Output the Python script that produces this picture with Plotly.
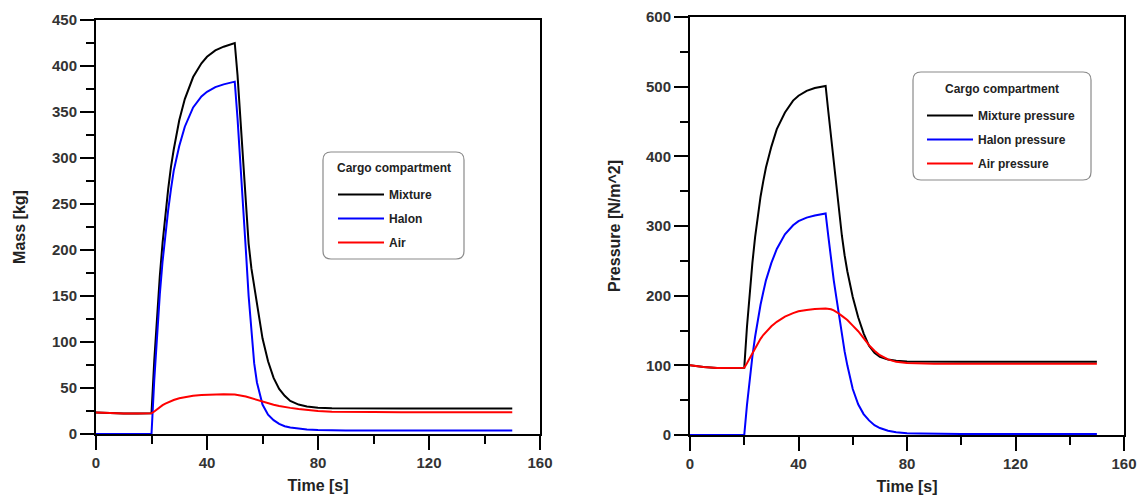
import plotly.graph_objects as go

# ---------------- data ----------------
time_s = [0, 5, 10, 15, 20, 21, 22, 23, 24, 25, 26, 27, 28, 30, 32, 35, 38, 40, 43, 46,
          50, 51, 52, 53, 54, 55, 56, 57, 58, 60, 62, 64, 66, 68, 70, 73, 76, 80, 85, 90,
          100, 110, 120, 130, 140, 150]

mixture_mass = [23.5, 22.8, 22.4, 22.3, 22.5, 80, 132, 172, 208, 240, 266, 290, 309, 341, 364, 388, 403, 410, 417, 421,
                425, 390, 345, 298, 250, 207, 180, 160, 141, 104, 79, 61, 49, 41.5, 36, 32, 30, 28.6, 28, 27.8,
                27.7, 27.7, 27.7, 27.7, 27.7, 27.7]
halon_mass = [0, 0, 0, 0, 0, 59, 110, 152, 188, 218, 243, 266, 286, 313, 334, 355, 367, 372, 377, 380,
              383, 343, 298, 250, 200, 150, 108, 77, 56, 32, 21, 15, 11, 8.5, 7, 5.8, 5, 4.4, 4, 3.8,
              3.7, 3.7, 3.7, 3.7, 3.7, 3.7]
air_mass = [23.5, 22.8, 22.4, 22.3, 22.5, 24.5, 27, 29.3, 31.3, 33, 34.5, 35.8, 36.9, 38.8, 40.2, 41.6, 42.4, 42.8, 43.2, 43.3,
            42.8, 42.5, 42, 41.4, 40.7, 39.8, 38.9, 38, 37, 35, 33.2, 31.8, 30.5, 29.3, 28.4, 27.2, 26.1, 25, 24.3, 24,
            23.8, 23.7, 23.7, 23.7, 23.7, 23.7]

mixture_pressure = [100, 97.5, 96.3, 96, 96.5, 155, 203, 247, 284, 316, 342, 364, 384, 414, 439, 463, 480, 487, 494, 498,
                    501, 464, 427, 390, 353, 318, 286, 258, 235, 198, 169, 146, 128, 118, 112, 108.5, 106.5, 105.5, 105.2, 105,
                    105, 105, 105, 105, 105, 105]
halon_pressure = [0, 0, 0, 0, 0, 43, 81, 113, 141, 166, 187, 205, 222, 247, 267, 288, 301, 307, 312, 315,
                  318, 285, 252, 222, 196, 170, 145, 120, 100, 66, 44, 30, 21, 14, 10, 6, 4, 2.5, 2, 1.5,
                  1.5, 1.5, 1.5, 1.5, 1.5, 1.5]
air_pressure = [100, 97.5, 96.3, 96, 96.5, 103, 110, 118, 125, 132, 138, 143.5, 148, 156, 162.5, 170, 175, 177.5, 179.5, 181,
                181.5, 181.3, 180.5, 179, 177, 174, 171, 168, 165, 157, 149, 139, 129, 121, 114.5, 108.5, 105, 103.2, 102.5, 102.3,
                102.3, 102.3, 102.3, 102.3, 102.3, 102.3]

mass_names = ["Mixture", "Halon", "Air"]
pressure_names = ["Mixture pressure", "Halon pressure", "Air pressure"]
legend_title = "Cargo compartment"
colors = ["#000000", "#0000ff", "#ff0000"]

# ---------------- figure ----------------
W, H = 1143, 498
FONT = "Liberation Sans, Arial, sans-serif"
fig = go.Figure()

for name, ys, c in zip(mass_names, [mixture_mass, halon_mass, air_mass], colors):
    fig.add_trace(go.Scatter(x=time_s, y=ys, mode="lines", name=name,
                             line=dict(color=c, width=2), xaxis="x", yaxis="y",
                             legend="legend", legendgroup="m" + name))
for name, ys, c in zip(pressure_names, [mixture_pressure, halon_pressure, air_pressure], colors):
    fig.add_trace(go.Scatter(x=time_s, y=ys, mode="lines", name=name,
                             line=dict(color=c, width=2), xaxis="x2", yaxis="y2",
                             legend="legend2", legendgroup="p" + name))

tickfont = dict(family=FONT, size=15, color="#333333", weight="bold")
titlefont = dict(family=FONT, size=16, color="#222222", weight="bold")


def axis(domain, rng, dtick, mdtick, title, anchor, standoff):
    return dict(domain=domain, range=rng, dtick=dtick, tick0=0, anchor=anchor,
                showline=True, linecolor="black", linewidth=2, mirror=True,
                ticks="outside", ticklen=14, tickwidth=2, tickcolor="black",
                showgrid=False, zeroline=False, automargin=False,
                tickfont=tickfont,
                minor=dict(dtick=mdtick, tick0=0, ticks="outside", ticklen=8,
                           tickwidth=2, tickcolor="black", showgrid=False),
                title=dict(text=title, font=titlefont, standoff=standoff))


def px_x(x):
    return x / W


def px_y(y):
    return 1 - y / H


L_X = [px_x(96), px_x(540)]
L_Y = [px_y(434), px_y(20)]
R_X = [px_x(690), px_x(1124)]
R_Y = [px_y(435), px_y(17)]


def rounded_box(x0, y0, x1, y1, r):
    def P(x, y):
        return f"{px_x(x):.5f},{px_y(y):.5f}"
    return (f"M{P(x0 + r, y0)} L{P(x1 - r, y0)} Q{P(x1, y0)} {P(x1, y0 + r)} "
            f"L{P(x1, y1 - r)} Q{P(x1, y1)} {P(x1 - r, y1)} L{P(x0 + r, y1)} "
            f"Q{P(x0, y1)} {P(x0, y1 - r)} L{P(x0, y0 + r)} Q{P(x0, y0)} {P(x0 + r, y0)} Z")


legfont = dict(family=FONT, size=12, color="#222222", weight="bold")


def legend(xp, yp):
    return dict(x=px_x(xp), y=px_y(yp), xanchor="left", yanchor="top",
                bgcolor="rgba(0,0,0,0)", borderwidth=0, font=legfont,
                traceorder="grouped", tracegroupgap=5, itemwidth=46)


def legend_title_ann(xc, yc):
    return dict(text=legend_title, x=px_x(xc), y=px_y(yc), xref="paper", yref="paper",
                xanchor="center", yanchor="middle", showarrow=False, font=legfont)


fig.update_layout(
    width=W, height=H, margin=dict(l=0, r=0, t=0, b=0), autosize=False,
    paper_bgcolor="white", plot_bgcolor="white",
    xaxis=axis(L_X, [0, 160], 40, 20, "Time [s]", "y", 10),
    yaxis=axis(L_Y, [0, 450], 50, 25, "Mass [kg]", "x", 22),
    xaxis2=axis(R_X, [0, 160], 40, 20, "Time [s]", "y2", 10),
    yaxis2=axis(R_Y, [0, 600], 100, 50, "Pressure [N/m^2]", "x2", 21),
    legend=legend(333, 180),
    legend2=legend(922, 101),
    annotations=[legend_title_ann(393.5, 168), legend_title_ann(1002, 89)],
    shapes=[
        dict(type="path", xref="paper", yref="paper", path=rounded_box(323, 152, 464, 259, 8),
             line=dict(color="#8a8a8a", width=1.2), layer="above"),
        dict(type="path", xref="paper", yref="paper", path=rounded_box(913, 72, 1091, 180, 8),
             line=dict(color="#8a8a8a", width=1.2), layer="above"),
    ],
)

fig.write_html("out.html")
